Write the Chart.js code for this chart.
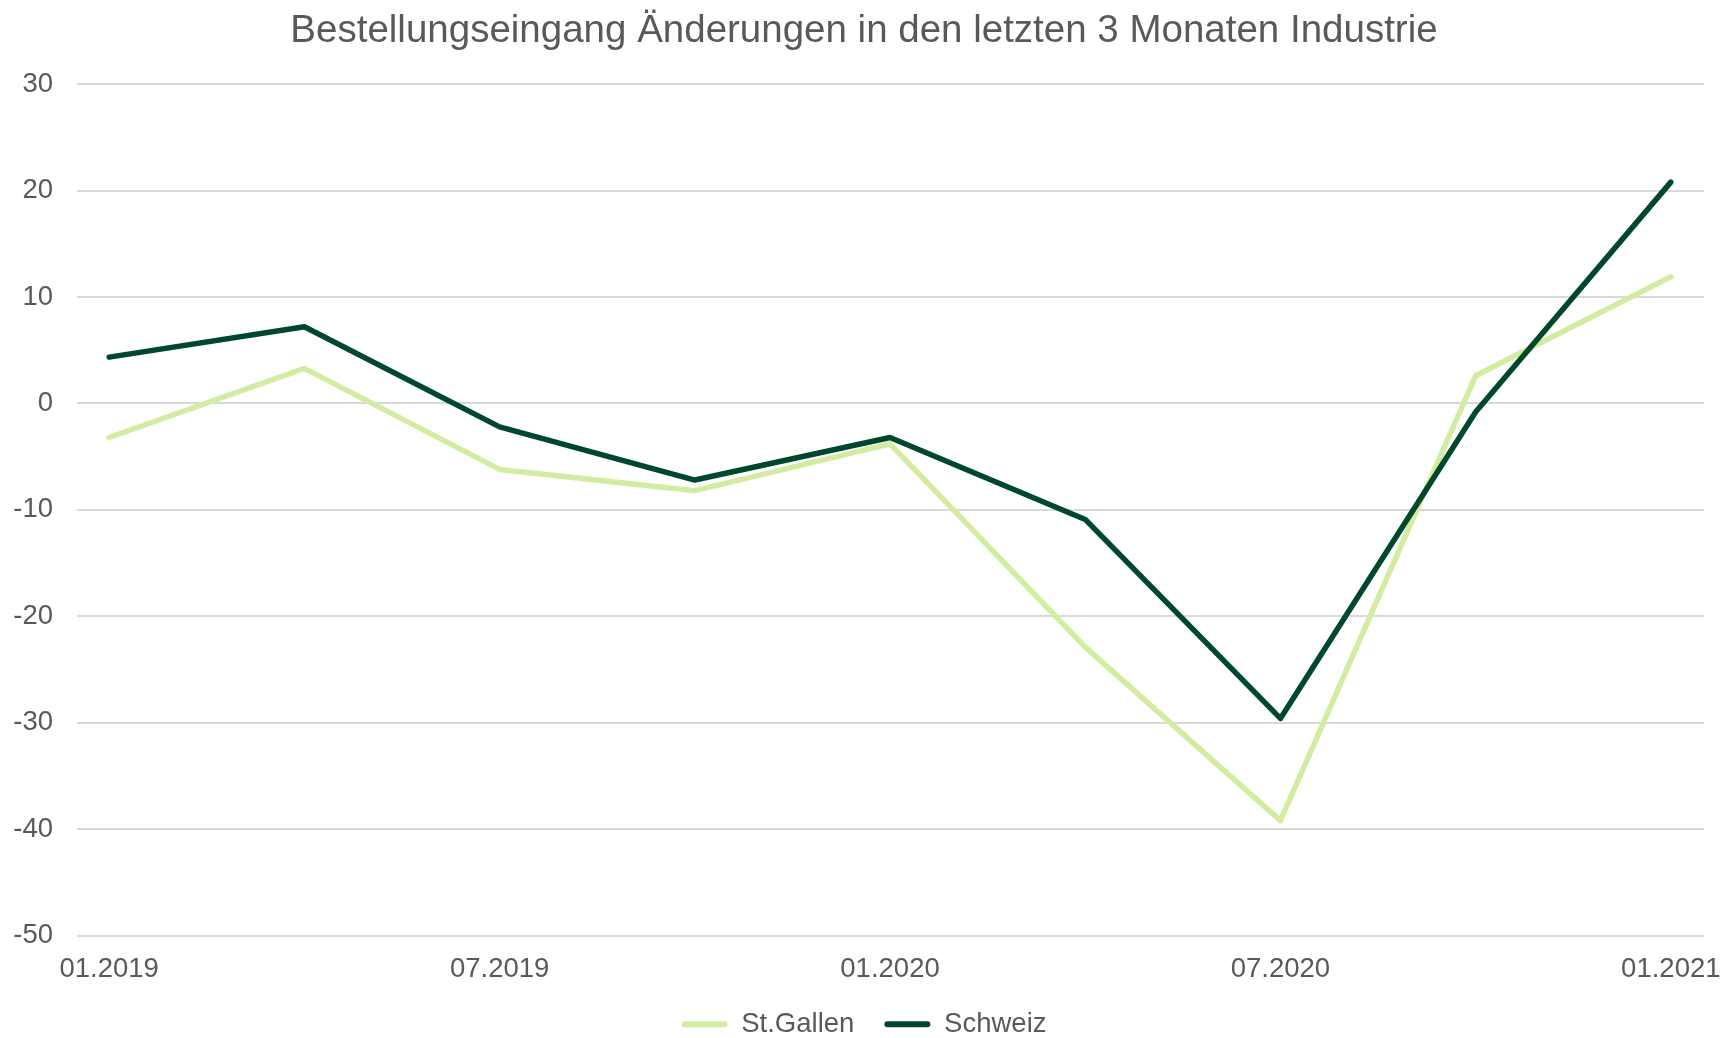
<!DOCTYPE html>
<html lang="de">
<head>
<meta charset="utf-8">
<title>Bestellungseingang Änderungen</title>
<script src="https://cdn.jsdelivr.net/npm/chart.js@4/dist/chart.umd.min.js"></script>
<style>
  html, body { margin: 0; padding: 0; background: #ffffff; }
  #wrap { width: 1728px; height: 1038px; position: relative; }
</style>
</head>
<body>
<div id="wrap"><canvas id="myChart"></canvas></div>
<script>
// Quartalswerte
const quartale = ["01.2019", "04.2019", "07.2019", "10.2019", "01.2020", "04.2020", "07.2020", "10.2020", "01.2021"];
const stGallen = [-3.2, 3.3, -6.2, -8.2, -3.8, -22.9, -39.2, 2.6, 11.9];
const schweiz = [4.35, 7.2, -2.2, -7.2, -3.2, -10.9, -29.6, -0.8, 20.8];
const beschriftet = [0, 2, 4, 6, 8]; // nur jede zweite Beschriftung sichtbar
const yMin = -50;
const yMax = 30;
const yStep = 10;

const textFarbe = "#595959";
const gitterFarbe = "#d9d9d9";

Chart.defaults.font.family = "'Liberation Sans', Arial, sans-serif";
Chart.defaults.color = textFarbe;

function punkte(werte) {
  return werte.map((v, i) => ({ x: i, y: v }));
}

const myChart = new Chart("myChart", {
  type: "line",
  data: {
    datasets: [
      {
        label: "St.Gallen",
        data: punkte(stGallen),
        borderColor: "#d2eda1",
        backgroundColor: "#d2eda1",
        borderWidth: 5.5,
        pointRadius: 0,
        tension: 0,
        borderCapStyle: "round",
        borderJoinStyle: "round",
        order: 1,
      },
      {
        label: "Schweiz",
        data: punkte(schweiz),
        borderColor: "#00482b",
        backgroundColor: "#00482b",
        borderWidth: 5.5,
        pointRadius: 0,
        tension: 0,
        borderCapStyle: "round",
        borderJoinStyle: "round",
        order: 0,
      },
    ],
  },
  options: {
    responsive: true,
    maintainAspectRatio: false,
    animation: false,
    layout: { padding: { left: 0, right: 0, top: 0, bottom: -10 } },
    plugins: {
      title: {
        display: true,
        text: "Bestellungseingang Änderungen in den letzten 3 Monaten Industrie",
        color: textFarbe,
        font: { size: 38.5, weight: "normal" },
        padding: { top: 8, bottom: 30 },
      },
      legend: {
        position: "bottom",
        labels: {
          boxWidth: 46,
          boxHeight: 6,
          padding: 30,
          color: textFarbe,
          font: { size: 27.5 },
          generateLabels: (chart) =>
            chart.data.datasets.map((ds, i) => ({
              text: ds.label,
              fillStyle: ds.borderColor,
              strokeStyle: ds.borderColor,
              lineWidth: 0,
              borderRadius: 3,
              fontColor: textFarbe,
              hidden: false,
              datasetIndex: i,
            })),
        },
      },
      tooltip: { enabled: false },
    },
    scales: {
      x: {
        type: "linear",
        min: -0.165,
        max: 8.17,
        grid: { display: false, drawTicks: true, tickLength: 17 },
        border: { display: false },
        afterBuildTicks: (scale) => {
          scale.ticks = beschriftet.map((v) => ({ value: v }));
        },
        afterFit: (scale) => {
          scale.height = 45;
          scale.paddingRight = 24;
        },
        ticks: {
          padding: 0,
          font: { size: 27.5 },
          color: textFarbe,
          maxRotation: 0,
          autoSkip: false,
          callback: (v) => quartale[v],
        },
      },
      y: {
        min: yMin,
        max: yMax,
        grid: { color: gitterFarbe, lineWidth: 2, drawTicks: false, tickLength: 0 },
        border: { display: false },
        afterFit: (scale) => {
          scale.width = 77;
        },
        ticks: {
          stepSize: yStep,
          padding: 24,
          font: { size: 27.5 },
          color: textFarbe,
        },
      },
    },
  },
});
</script>
</body>
</html>
